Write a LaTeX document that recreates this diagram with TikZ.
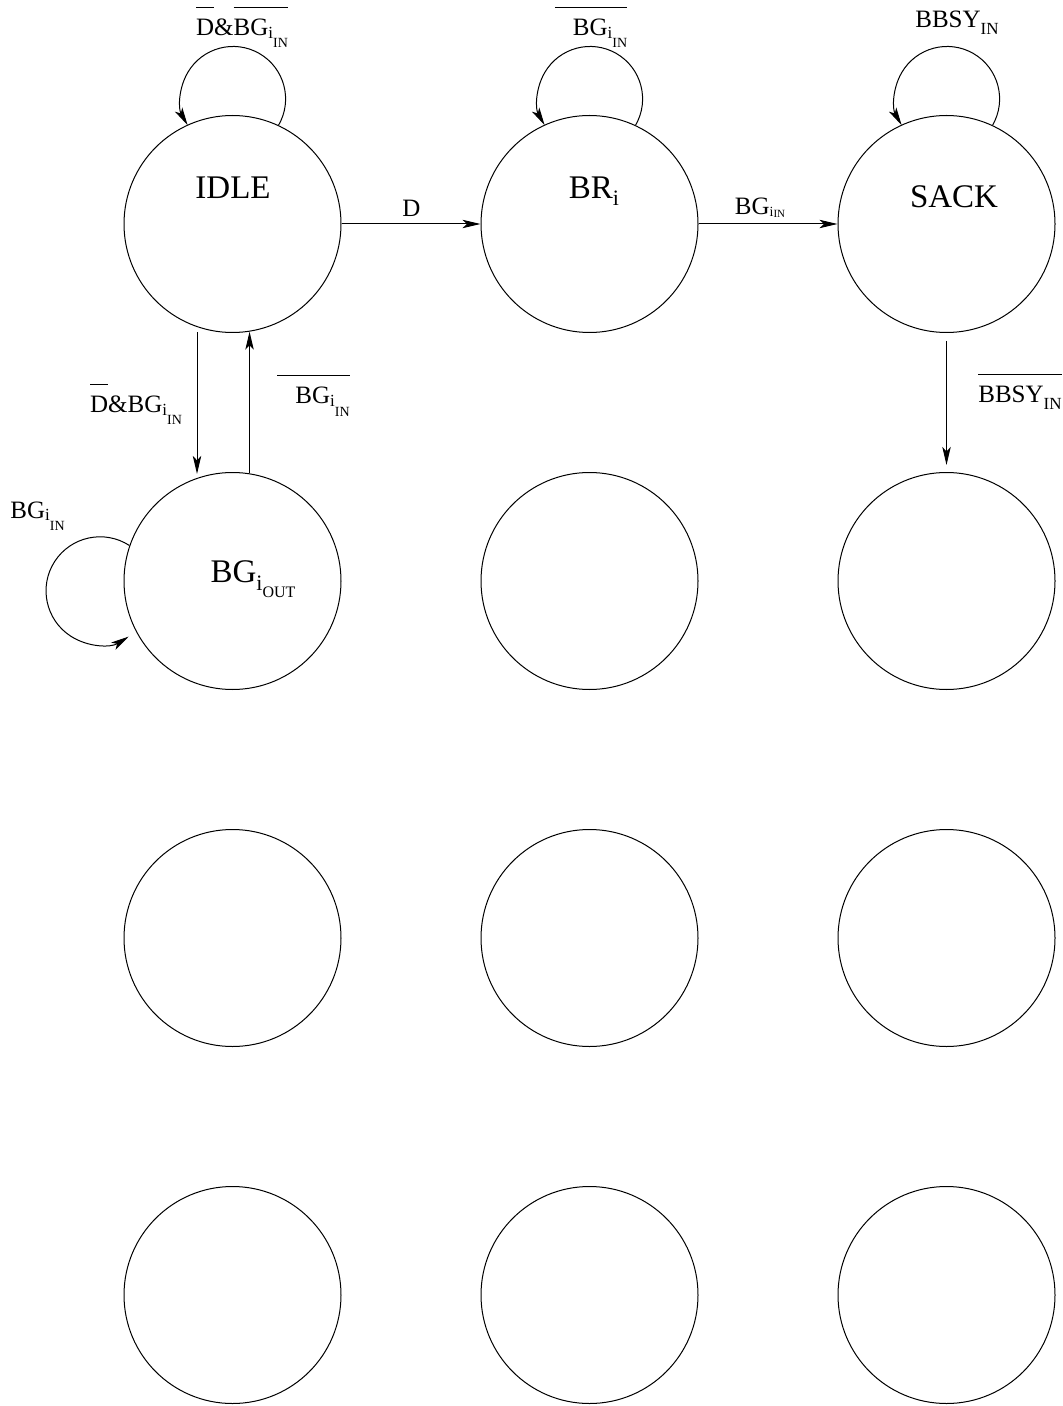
\documentclass[tikz,border=0pt]{standalone}
\usepackage{fontspec}
\setmainfont{Liberation Serif}
\usetikzlibrary{arrows.meta,calc}

\newcommand{\negsig}[2][0pt]{$\overline{\mbox{\hspace*{#1}\rule{0pt}{1.02em}#2}}$}
\newcommand{\lowsub}[3]{\raisebox{#1}{\fontsize{#2}{#2}\selectfont #3}}
\newcommand{\bgin}{BG\lowsub{-1.3pt}{8.5}{i}\lowsub{-6pt}{7}{IN}}

\tikzset{
  state/.style={circle,draw,line width=0.5pt,minimum size=108.5pt,inner sep=0pt},
  stname/.style={anchor=base,inner sep=0pt,font=\fontsize{16.5}{19}\selectfont},
  trans/.style={line width=0.5pt,-{Stealth[length=9pt,width=4.2pt,inset=2.2pt]}},
  sig/.style={anchor=base,inner sep=0pt,font=\fontsize{12.5}{15}\selectfont}
}

\begin{document}
\begin{tikzpicture}[x=0.5pt,y=0.5pt]
\useasboundingbox (0,0) rectangle (1063,-1406);

% states
\node[state] (idle)  at (232.5,-224) {};
\node[state] (brq)   at (589.5,-224) {};
\node[state] (sack)  at (946.5,-224) {};
\node[state] (bgout) at (232.5,-581) {};
\node[state] (s22)   at (589.5,-581) {};
\node[state] (s23)   at (946.5,-581) {};
\node[state] (s31)   at (232.5,-938) {};
\node[state] (s32)   at (589.5,-938) {};
\node[state] (s33)   at (946.5,-938) {};
\node[state] (s41)   at (232.5,-1295) {};
\node[state] (s42)   at (589.5,-1295) {};
\node[state] (s43)   at (946.5,-1295) {};

\node[stname] (idletxt)  at (233,-199) {IDLE};
\node[stname] (brqtxt)   at (594,-199) {BR\lowsub{-3.5pt}{11}{i}};
\node[stname] (sacktxt)  at (954,-208) {SACK};
\node[stname] (bgouttxt) at (253,-582) {BG\lowsub{-4pt}{11}{i}\lowsub{-7.5pt}{8}{OUT}};

% transitions
\draw[trans] (idle) -- (brq);
\draw[trans] (brq) -- (sack);
\draw[trans,shorten <=2.5pt,shorten >=2pt] (idle.-109) -- (bgout.109);
\draw[trans] (bgout.81) -- (idle.-81);
\draw[trans,shorten <=4pt,shorten >=3.5pt] (sack) -- (s23);

% self loops
\draw[trans] (idle.65) arc[start angle=-30,end angle=210,radius=26.25pt];
\draw[trans] (brq.65) arc[start angle=-30,end angle=210,radius=26.25pt];
\draw[trans] (sack.65) arc[start angle=-30,end angle=210,radius=26.25pt];
\draw[trans] (bgout.161) arc[start angle=57,end angle=302,radius=27pt];

% labels
\node[sig] (l1) at (411.5,-216.5) {D};
\node[sig] (l2) at (760,-215) {BG\lowsub{-0.6pt}{7}{i}\lowsub{-1.5pt}{5.5}{IN}};
\node[sig] (l3) at (242,-36) {\negsig{D}\&\negsig{\bgin}};
\node[sig] (l4) at (591,-36) {\negsig[9pt]{\bgin}};
\node[sig] (l5) at (957,-27.5) {BBSY\lowsub{-3.5pt}{8.5}{IN}};
\node[sig] (l6) at (136,-413) {\negsig{D}\&\bgin};
\node[sig] (l7) at (313.5,-404) {\negsig[9pt]{\bgin}};
\node[sig] (l8) at (1020,-403) {\negsig{BBSY\lowsub{-3.5pt}{8.5}{IN}}};
\node[sig] (l9) at (37.5,-518) {\bgin};

\end{tikzpicture}
\end{document}
